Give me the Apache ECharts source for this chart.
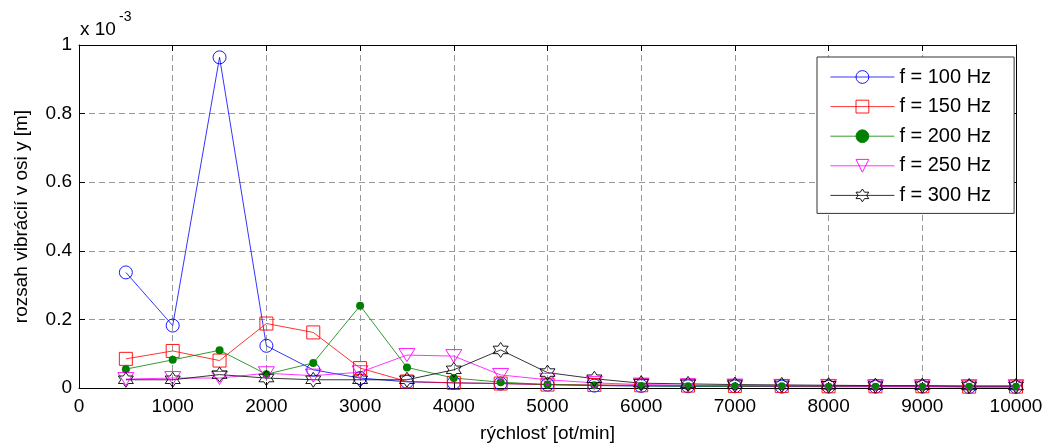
<!DOCTYPE html>
<html>
<head>
<meta charset="utf-8">
<script src="https://cdn.jsdelivr.net/npm/echarts@6/dist/echarts.min.js"></script>
<style>
  html, body { margin: 0; padding: 0; background: #fff; }
  #chart { width: 1048px; height: 448px; }
</style>
</head>
<body>
<div id="chart"></div>
<script>
  // ==== data (y in units of 1e-3 m) ====
  const speeds = [500, 1000, 1500, 2000, 2500, 3000, 3500, 4000, 4500, 5000,
    5500, 6000, 6500, 7000, 7500, 8000, 8500, 9000, 9500, 10000]
  const f100 = [0.337, 0.182, 0.964, 0.123, 0.053, 0.029, 0.018, 0.015, 0.013, 0.010,
    0.007, 0.006, 0.005, 0.005, 0.004, 0.004, 0.004, 0.004, 0.003, 0.003]
  const f150 = [0.085, 0.108, 0.080, 0.188, 0.162, 0.058, 0.019, 0.015, 0.013, 0.010,
    0.009, 0.008, 0.007, 0.006, 0.006, 0.005, 0.005, 0.005, 0.004, 0.004]
  const f200 = [0.055, 0.082, 0.110, 0.040, 0.073, 0.240, 0.060, 0.029, 0.017, 0.010,
    0.008, 0.006, 0.005, 0.005, 0.005, 0.004, 0.004, 0.004, 0.004, 0.004]
  const f250 = [0.026, 0.029, 0.029, 0.043, 0.036, 0.046, 0.096, 0.093, 0.038, 0.024,
    0.015, 0.010, 0.008, 0.007, 0.006, 0.006, 0.005, 0.005, 0.005, 0.005]
  const f300 = [0.024, 0.024, 0.039, 0.029, 0.024, 0.024, 0.024, 0.053, 0.111, 0.045,
    0.027, 0.014, 0.012, 0.010, 0.009, 0.008, 0.007, 0.007, 0.006, 0.006]
  const seriesNames = ['f = 100 Hz', 'f = 150 Hz', 'f = 200 Hz', 'f = 250 Hz', 'f = 300 Hz']
  const xTicks = [0, 1000, 2000, 3000, 4000, 5000, 6000, 7000, 8000, 9000, 10000]
  const yTicks = [0, 0.2, 0.4, 0.6, 0.8, 1]

  const FONT = '"Liberation Sans", Arial, Helvetica, sans-serif'
  const CLEAR = 'rgba(0,0,0,0)'
  const HEXAGRAM = 'path://M0,-10L2.887,-5L8.66,-5L5.774,0L8.66,5L2.887,5L0,10L-2.887,5L-8.66,5L-5.774,0L-8.66,-5L-2.887,-5Z'
  const TRI_DOWN = 'path://M-8,-6L8,-6L0,7Z'

  const makeSeries = (name, values, color, symbol, size, filled) => ({
    name,
    type: 'line',
    data: speeds.map((s, i) => [s, values[i]]),
    symbol,
    symbolSize: size,
    showAllSymbol: true,
    lineStyle: { color, width: 0.8 },
    itemStyle: {
      color: filled ? color : CLEAR,
      borderColor: color,
      borderWidth: filled ? 0 : 0.9
    },
    emphasis: { disabled: true },
    animation: false
  })

  const chart = echarts.init(document.getElementById('chart'))

  const gridLine = { show: true, lineStyle: { color: '#999', type: [6, 4], width: 1 } }
  const axisCommon = {
    type: 'value',
    axisLine: { show: true, onZero: false, lineStyle: { color: '#000', width: 1 } },
    axisTick: { show: true, inside: true, length: 6, lineStyle: { color: '#000' } },
    axisLabel: { color: '#000', fontSize: 19, fontFamily: FONT }
  }

  chart.setOption({
    animation: false,
    textStyle: { fontFamily: FONT },
    grid: { left: 79, right: 32, top: 45, bottom: 57, show: false },
    legend: {
      orient: 'vertical',
      left: 817,
      top: 57,
      padding: [10, 23, 8, 13],
      itemWidth: 64,
      itemHeight: 16,
      itemGap: 9.6,
      backgroundColor: '#fff',
      borderColor: '#333',
      borderWidth: 1,
      lineStyle: { width: 0.8 },
      itemStyle: { borderWidth: 0.9 },
      textStyle: { fontSize: 20, color: '#000', fontFamily: FONT, lineHeight: 20 },
      data: seriesNames
    },
    xAxis: [
      {
        ...axisCommon,
        min: xTicks[0],
        max: xTicks[xTicks.length - 1],
        interval: 1000,
        splitLine: gridLine,
        axisLabel: { ...axisCommon.axisLabel, margin: 9, formatter: (v) => String(v) },
        name: 'rýchlosť [ot/min]',
        nameLocation: 'middle',
        nameGap: 36,
        nameTextStyle: { fontSize: 19, color: '#000', fontFamily: FONT }
      },
      {
        ...axisCommon,
        position: 'top',
        min: xTicks[0],
        max: xTicks[xTicks.length - 1],
        interval: 1000,
        splitLine: { show: false },
        axisLabel: { show: false }
      }
    ],
    yAxis: [
      {
        ...axisCommon,
        min: yTicks[0],
        max: yTicks[yTicks.length - 1],
        interval: 0.2,
        splitLine: gridLine,
        axisLabel: { ...axisCommon.axisLabel, margin: 7, formatter: (v) => String(+v.toFixed(1)) },
        name: 'rozsah vibrácií v osi y [m]',
        nameLocation: 'middle',
        nameGap: 48,
        nameTextStyle: { fontSize: 19, color: '#000', fontFamily: FONT }
      },
      {
        ...axisCommon,
        position: 'right',
        min: yTicks[0],
        max: yTicks[yTicks.length - 1],
        interval: 0.2,
        splitLine: { show: false },
        axisLabel: { show: false }
      }
    ],
    graphic: [
      { type: 'text', left: 80, top: 20, style: { text: 'x 10', font: '19px ' + FONT, fill: '#000' } },
      { type: 'text', left: 119, top: 10, style: { text: '-3', font: '14px ' + FONT, fill: '#000' } }
    ],
    series: [
      makeSeries(seriesNames[0], f100, '#0000ff', 'circle', 13, false),
      makeSeries(seriesNames[1], f150, '#ff0000', 'rect', 13, false),
      makeSeries(seriesNames[2], f200, '#008000', 'circle', 8, true),
      makeSeries(seriesNames[3], f250, '#ff00ff', TRI_DOWN, [16, 13], false),
      makeSeries(seriesNames[4], f300, '#000000', HEXAGRAM, 15, false)
    ]
  })

  window.addEventListener('resize', () => chart.resize())
</script>
</body>
</html>
